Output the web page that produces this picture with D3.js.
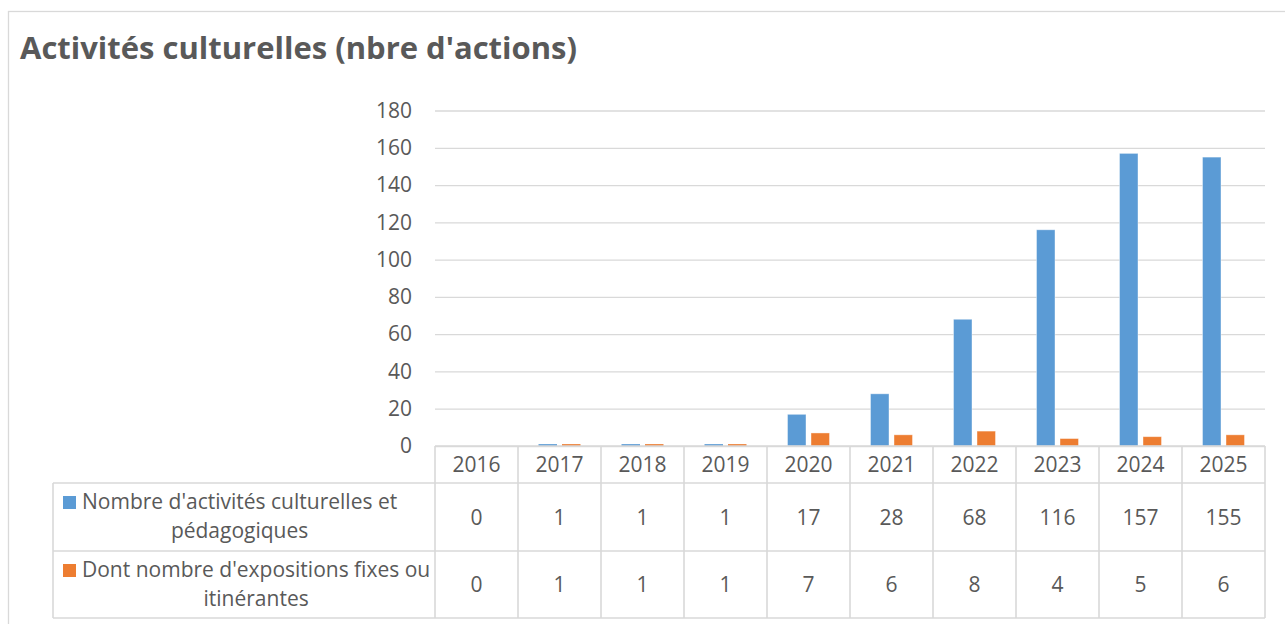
<!DOCTYPE html>
<html>
<head>
<meta charset="utf-8">
<script src="https://cdn.jsdelivr.net/npm/d3@7"></script>
<style>
  body { margin: 0; background: #fff; }
  text { font-family: "Open Sans", "DejaVu Sans", sans-serif; fill: #595959; }
</style>
</head>
<body>
<script>
// data
var years = ["2016", "2017", "2018", "2019", "2020", "2021", "2022", "2023", "2024", "2025"];
var activites = [0, 1, 1, 1, 17, 28, 68, 116, 157, 155];
var expositions = [0, 1, 1, 1, 7, 6, 8, 4, 5, 6];
var seriesNames = [
  ["Nombre d'activités culturelles et", "pédagogiques"],
  ["Dont nombre d'expositions fixes ou", "itinérantes"]
];
var seriesColors = ["#5B9BD5", "#ED7D31"];
var yTicks = [0, 20, 40, 60, 80, 100, 120, 140, 160, 180];
var titleText = "Activités culturelles (nbre d'actions)";

var width = 1285, height = 624;
var plotLeft = 435, plotRight = 1265, plotTop = 110.5, plotBottom = 446;
var legLeft = 53;
var rowY = [446, 483, 551, 618]; // table row boundaries
var gridColor = "#D9D9D9";
var fs = 21;

var svg = d3.select("body").append("svg")
    .attr("width", width)
    .attr("height", height);

// chart area border (runs off the right and bottom edges)
svg.append("rect")
    .attr("x", 8.5).attr("y", 11.5)
    .attr("width", 1300).attr("height", 700)
    .attr("fill", "white")
    .attr("stroke", gridColor)
    .attr("stroke-width", 1.3);

// title
var title = svg.append("text")
    .attr("x", 20)
    .attr("y", 59)
    .attr("font-size", 30)
    .attr("font-weight", 700)
    .text(titleText);
title.attr("textLength", 557).attr("lengthAdjust", "spacingAndGlyphs");

var x = d3.scaleBand().domain(years).range([plotLeft, plotRight]);
var xs = d3.scaleBand().domain([0, 1]).range([20.5, 62.5]).paddingInner(0.213);
var y = d3.scaleLinear().domain([0, 180]).range([plotBottom, plotTop]);

// y axis with gridlines
var yAxis = svg.append("g")
    .attr("transform", "translate(" + plotLeft + ",0)")
    .call(d3.axisLeft(y).tickValues(yTicks).tickSize(-(plotRight - plotLeft)).tickPadding(23));
yAxis.select(".domain").remove();
yAxis.selectAll(".tick line").attr("stroke", gridColor).attr("stroke-width", 1.3);
yAxis.selectAll(".tick text")
    .attr("font-size", fs)
    .attr("fill", "#595959")
    .attr("font-family", "'Open Sans', sans-serif");

// bars
var series = [activites, expositions];
series.forEach(function(vals, si) {
    svg.append("g").selectAll("rect")
        .data(vals)
        .enter()
        .append("rect")
        .attr("x", (d, i) => x(years[i]) + xs(si))
        .attr("y", d => y(d))
        .attr("width", xs.bandwidth())
        .attr("height", d => plotBottom - y(d))
        .attr("fill", seriesColors[si])
        .attr("stroke", "white")
        .attr("stroke-opacity", d => d > 2 ? 0.5 : 0)
        .attr("stroke-width", 0.8);
});

// data table
var table = svg.append("g");
var tl = function(x1, y1, x2, y2) {
    table.append("line")
        .attr("x1", x1).attr("y1", y1).attr("x2", x2).attr("y2", y2)
        .attr("stroke", gridColor).attr("stroke-width", 1.6);
};
// horizontal lines
tl(plotLeft, rowY[0], plotRight, rowY[0]);
tl(legLeft, rowY[1], plotRight, rowY[1]);
tl(legLeft, rowY[2], plotRight, rowY[2]);
tl(legLeft, rowY[3], plotRight, rowY[3]);
// vertical lines
tl(legLeft, rowY[1], legLeft, rowY[3]);
years.forEach(function(yr) { tl(x(yr), rowY[0], x(yr), rowY[3]); });
tl(plotRight, rowY[0], plotRight, rowY[3]);

// year header
table.selectAll(".yr")
    .data(years)
    .enter()
    .append("text")
    .attr("class", "yr")
    .attr("x", d => x(d) + x.bandwidth() / 2)
    .attr("y", 471.5)
    .attr("text-anchor", "middle")
    .attr("font-size", fs)
    .text(d => d);

// values
series.forEach(function(vals, si) {
    table.append("g").selectAll("text")
        .data(vals)
        .enter()
        .append("text")
        .attr("x", (d, i) => x(years[i]) + x.bandwidth() / 2)
        .attr("y", (rowY[si + 1] + rowY[si + 2]) / 2 + 7.5)
        .attr("text-anchor", "middle")
        .attr("font-size", fs)
        .text(d => d);
});

// legend cells
seriesNames.forEach(function(lines, si) {
    var top = rowY[si + 1];
    table.append("rect")
        .attr("x", 63).attr("y", top + 13)
        .attr("width", 13).attr("height", 13)
        .attr("fill", seriesColors[si]);
    var l1 = table.append("text")
        .attr("x", 82)
        .attr("y", top + 26)
        .attr("font-size", fs)
        .text(lines[0]);
    var w1 = l1.node().getComputedTextLength();
    table.append("text")
        .attr("x", 82 + w1 / 2)
        .attr("y", top + 55)
        .attr("text-anchor", "middle")
        .attr("font-size", fs)
        .text(lines[1]);
});
</script>
</body>
</html>
